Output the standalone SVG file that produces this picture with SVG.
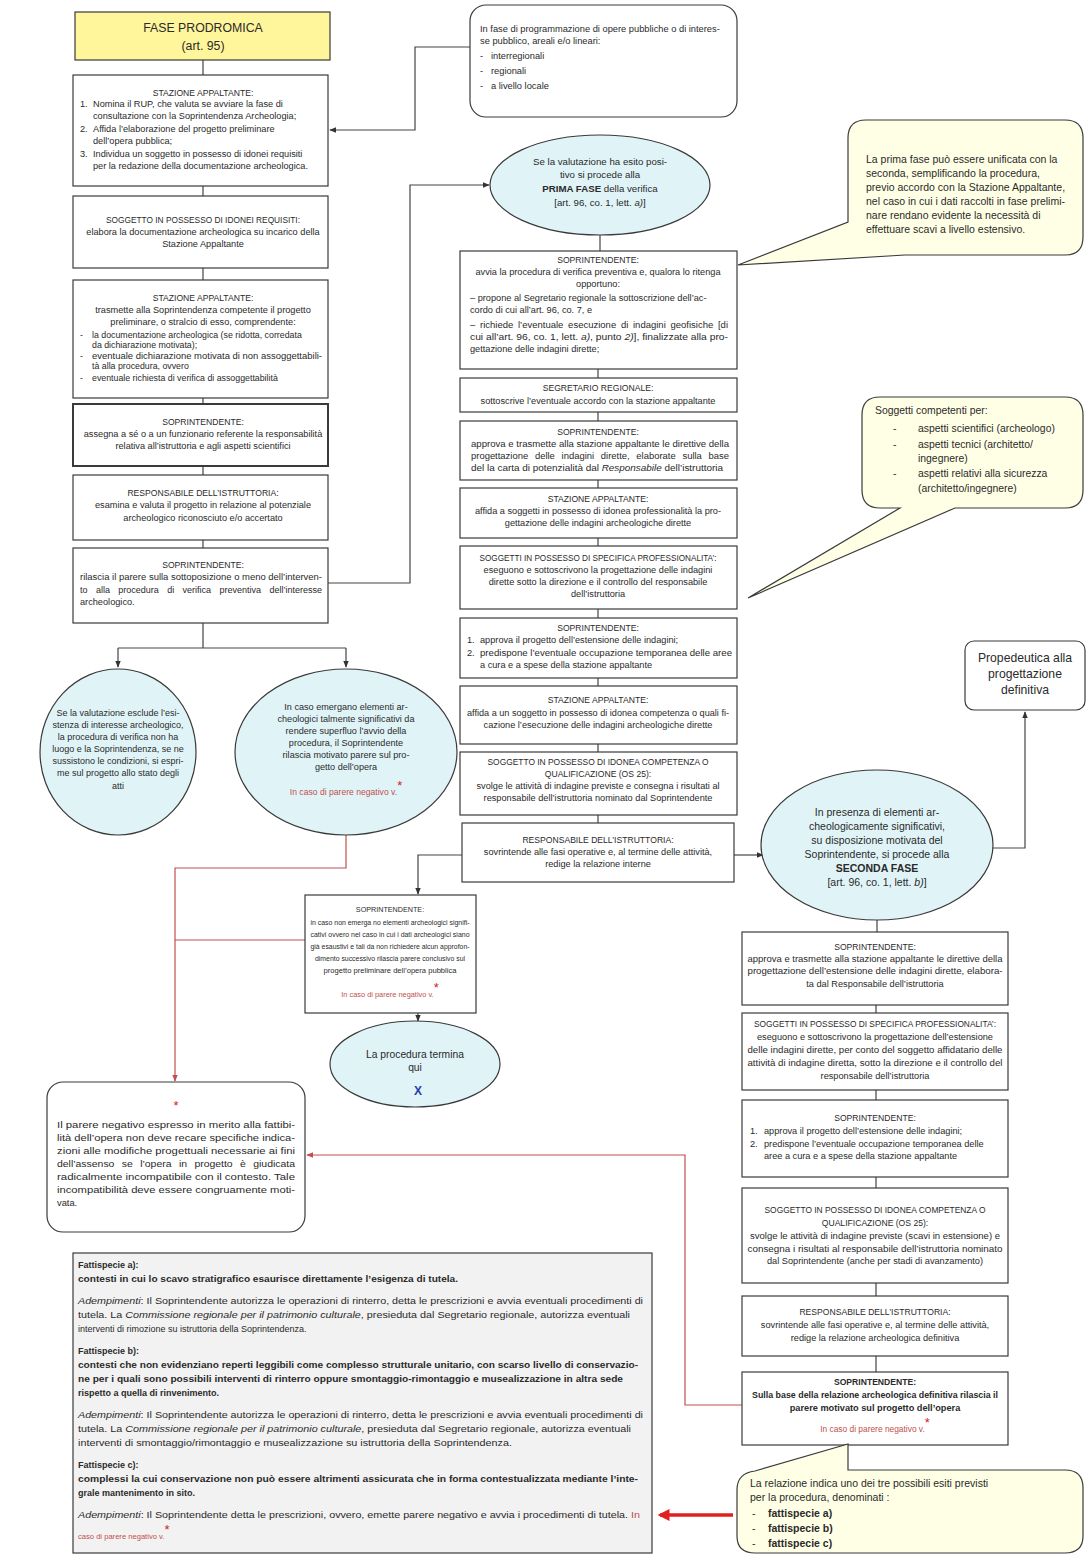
<svg xmlns="http://www.w3.org/2000/svg" width="1088" height="1556" viewBox="0 0 1088 1556">
<style>
text{font-family:"Liberation Sans",Arial,sans-serif;fill:#2a2a2a}
.c{text-anchor:middle}
.b{font-weight:bold}
.i{font-style:italic}
.red{fill:#C0504D}
.ast{fill:#D0202A;font-size:13px}
.box{fill:#fff;stroke:#3a3a3a;stroke-width:1.2}
.ell{fill:#E0F4F8;stroke:#3a3a3a;stroke-width:1.2}
.note{fill:#FFFFE6;stroke:#3a3a3a;stroke-width:1.2}
.rnd{fill:#fff;stroke:#3a3a3a;stroke-width:1.2}
.ln{stroke:#444;stroke-width:1.2;fill:none}
.rl{stroke:#C0504D;stroke-width:1.2;fill:none}
.tt{font-size:8.6px}
.s9{font-size:9.2px}
</style>
<defs>
<marker id="ah" viewBox="0 0 10 10" refX="9" refY="5" markerWidth="6" markerHeight="6" orient="auto"><path d="M0,1 L10,5 L0,9 z" fill="#333"/></marker>
<marker id="ahr" viewBox="0 0 10 10" refX="9" refY="5" markerWidth="6" markerHeight="6" orient="auto"><path d="M0,1 L10,5 L0,9 z" fill="#C0504D"/></marker>
<marker id="ahR" viewBox="0 0 10 10" refX="8" refY="5" markerWidth="3.4" markerHeight="3.4" orient="auto"><path d="M0,0 L10,5 L0,10 z" fill="#E0201F"/></marker>
</defs>

<g id="connectors">
<path class="ln" d="M203,60 V75 M203,186 V196 M203,268 V280 M203,398 V404 M203,466 V475 M203,540 V548"/>
<path class="ln" d="M203,623 V648 M118,648 H346"/>
<path class="ln" d="M118,648 V667" marker-end="url(#ah)"/>
<path class="ln" d="M346,648 V667" marker-end="url(#ah)"/>
<path class="ln" d="M470,47 H415 V130 H330" marker-end="url(#ah)"/>
<path class="ln" d="M328,583 H410 V185 H489" marker-end="url(#ah)"/>
<path class="ln" d="M600,235 V251 M598,369 V378 M598,412 V421 M598,480 V488 M598,538 V546 M598,609 V618 M598,678 V686 M598,744 V752 M598,815 V823"/>
<path class="ln" d="M462,855 H418 V894" marker-end="url(#ah)"/>
<path class="ln" d="M734,855 H763" marker-end="url(#ah)"/>
<path class="ln" d="M418,1013 V1021" marker-end="url(#ah)"/>
<path class="ln" d="M993,848 H1025 V712" marker-end="url(#ah)"/>
<path class="ln" d="M877,920 V932 M876,1005 V1013 M876,1090 V1100 M876,1177 V1188 M876,1283 V1296 M876,1356 V1372"/>
<path class="rl" d="M346,835 V868 H175 V1081" marker-end="url(#ahr)"/>
<path class="rl" d="M305,940 H175"/>
<path class="rl" d="M742,1405 H685 V1155 H307" marker-end="url(#ahr)"/>
<path d="M733,1515 H660" stroke="#E0201F" stroke-width="3.5" fill="none" marker-end="url(#ahR)"/>
</g>

<g id="fase-prodromica">
<rect x="75" y="12" width="255" height="48" fill="#FFF59A" stroke="#3a3a3a" stroke-width="1.2"/>
<text class="c" x="203" y="32" font-size="12.3">FASE PRODROMICA</text>
<text class="c" x="203" y="50" font-size="12.3">(art. 95)</text>
</g>

<g id="stazione-1" class="s9">
<rect class="box" x="73" y="75" width="255" height="111"/>
<text class="c tt" x="203" y="96">STAZIONE APPALTANTE:</text>
<text x="80" y="107">1.</text><text x="93" y="107">Nomina il RUP, che valuta  se avviare la fase di</text>
<text x="93" y="119">consultazione con la Soprintendenza Archeologia;</text>
<text x="80" y="132">2.</text><text x="93" y="132">Affida l’elaborazione  del progetto preliminare</text>
<text x="93" y="144">dell’opera pubblica;</text>
<text x="80" y="157">3.</text><text x="93" y="157">Individua un soggetto in possesso di idonei requisiti</text>
<text x="93" y="169">per la redazione della documentazione  archeologica.</text>
</g>

<g id="soggetto-idonei" class="s9">
<rect class="box" x="73" y="196" width="255" height="72"/>
<text class="c tt" x="203" y="223" textLength="194" lengthAdjust="spacingAndGlyphs">SOGGETTO IN POSSESSO DI IDONEI REQUISITI:</text>
<text class="c" x="203" y="235">elabora la documentazione archeologica su incarico della</text>
<text class="c" x="203" y="247">Stazione Appaltante</text>
</g>

<g id="stazione-2" class="s9">
<rect class="box" x="73" y="280" width="255" height="118"/>
<text class="c tt" x="203" y="301">STAZIONE APPALTANTE:</text>
<text class="c" x="203" y="313">trasmette alla Soprintendenza competente il progetto</text>
<text class="c" x="203" y="325">preliminare, o stralcio di esso, comprendente:</text>
<g font-size="8.8">
<text x="80" y="338">-</text><text x="92" y="338">la documentazione archeologica (se ridotta, corredata</text>
<text x="92" y="348">da dichiarazione motivata);</text>
<text x="80" y="359">-</text><text x="92" y="359" textLength="230" lengthAdjust="spacingAndGlyphs">eventuale dichiarazione motivata di non assoggettabili-</text>
<text x="92" y="369">tà  alla procedura, ovvero</text>
<text x="80" y="381">-</text><text x="92" y="381">eventuale richiesta di verifica di assoggettabilità</text>
</g>
</g>

<g id="soprintendente-assegna" class="s9">
<rect x="73" y="404" width="255" height="62" fill="#fff" stroke="#3a3a3a" stroke-width="2"/>
<text class="c tt" x="203" y="425">SOPRINTENDENTE:</text>
<text class="c" x="203" y="437">assegna a sé o a un funzionario referente la responsabilità</text>
<text class="c" x="203" y="449">relativa all’istruttoria e  agli aspetti scientifici</text>
</g>

<g id="responsabile-1" class="s9">
<rect class="box" x="73" y="475" width="255" height="65"/>
<text class="c tt" x="203" y="496">RESPONSABILE DELL’ISTRUTTORIA:</text>
<text class="c" x="203" y="508">esamina e valuta il progetto in relazione al potenziale</text>
<text class="c" x="203" y="521">archeologico riconosciuto e/o accertato</text>
</g>

<g id="soprintendente-rilascia" class="s9">
<rect class="box" x="73" y="548" width="255" height="75"/>
<text class="c tt" x="203" y="568">SOPRINTENDENTE:</text>
<text x="80" y="580" textLength="242" lengthAdjust="spacingAndGlyphs">rilascia il parere sulla sottoposizione o meno dell’interven-</text>
<text x="80" y="593" textLength="242" lengthAdjust="spacingAndGlyphs" word-spacing="6">to alla procedura di verifica preventiva dell’interesse</text>
<text x="80" y="605">archeologico.</text>
</g>

<g id="ellipse-esclude" font-size="9">
<ellipse class="ell" cx="118" cy="752" rx="78" ry="83"/>
<text class="c" x="118" y="716">Se la valutazione esclude l’esi-</text>
<text class="c" x="118" y="728">stenza di interesse archeologico,</text>
<text class="c" x="118" y="740">la procedura di verifica non ha</text>
<text class="c" x="118" y="752">luogo  e la Soprintendenza, se ne</text>
<text class="c" x="118" y="764">sussistono le condizioni, si espri-</text>
<text class="c" x="118" y="776">me sul progetto allo stato degli</text>
<text class="c" x="118" y="789">atti</text>
</g>

<g id="ellipse-emergano" font-size="9.1">
<ellipse class="ell" cx="346" cy="752" rx="111" ry="83"/>
<text class="c" x="346" y="710">In caso emergano elementi ar-</text>
<text class="c" x="346" y="722">cheologici talmente significativi da</text>
<text class="c" x="346" y="734">rendere superfluo l’avvio della</text>
<text class="c" x="346" y="746">procedura, il Soprintendente</text>
<text class="c" x="346" y="758">rilascia motivato parere sul pro-</text>
<text class="c" x="346" y="770">getto dell’opera</text>
<text class="c red" x="346" y="795" font-size="8.6">In caso di parere negativo  v.<tspan class="ast" dy="-5">*</tspan></text>
</g>

<g id="programmazione" font-size="9.3">
<rect class="rnd" x="470" y="5" width="267" height="112" rx="16"/>
<text x="480" y="32">In fase di programmazione di opere pubbliche o di interes-</text>
<text x="480" y="44">se pubblico, areali e/o lineari:</text>
<text x="480" y="59">-</text><text x="491" y="59">interregionali</text>
<text x="480" y="74">-</text><text x="491" y="74">regionali</text>
<text x="480" y="89">-</text><text x="491" y="89">a livello locale</text>
</g>

<g id="ellipse-prima" font-size="9.7">
<ellipse class="ell" cx="600" cy="185" rx="110" ry="50"/>
<text class="c" x="600" y="165">Se la valutazione ha esito posi-</text>
<text class="c" x="600" y="178">tivo si procede alla</text>
<text class="c" x="600" y="192"><tspan class="b">PRIMA FASE</tspan>  della verifica</text>
<text class="c" x="600" y="206">[art. 96, co. 1, lett. <tspan class="i">a)</tspan>]</text>
</g>

<g id="callout-prima">
<path class="note" d="M866,120 H1065 Q1083,120 1083,138 V237 Q1083,255 1065,255 H905 L738,265 L848,222 V138 Q848,120 866,120 Z"/>
<g font-size="10.5">
<text x="866" y="163">La prima fase può essere unificata con la</text>
<text x="866" y="177">seconda, semplificando la procedura,</text>
<text x="866" y="191">previo accordo con la Stazione Appaltante,</text>
<text x="866" y="205">nel caso in cui i dati raccolti in fase prelimi-</text>
<text x="866" y="219">nare rendano evidente la necessità di</text>
<text x="866" y="233">effettuare scavi a livello estensivo.</text>
</g>
</g>

<g id="m-soprintendente-avvia" class="s9">
<rect class="box" x="460" y="251" width="277" height="118"/>
<text class="c tt" x="598" y="263">SOPRINTENDENTE:</text>
<text class="c" x="598" y="275">avvia la procedura di verifica preventiva e, qualora lo ritenga</text>
<text class="c" x="598" y="287">opportuno:</text>
<text x="470" y="301">– propone al Segretario regionale la sottoscrizione dell’ac-</text>
<text x="470" y="313">cordo di cui all’art. 96, co. 7, e</text>
<text x="470" y="328" textLength="258" lengthAdjust="spacingAndGlyphs" word-spacing="2">– richiede l’eventuale esecuzione di indagini geofisiche [di</text>
<text x="470" y="340" textLength="258" lengthAdjust="spacingAndGlyphs">cui all’art. 96, co. 1, lett. <tspan class="i">a)</tspan>, punto <tspan class="i">2)</tspan>],  finalizzate alla pro-</text>
<text x="470" y="352">gettazione delle indagini dirette;</text>
</g>

<g id="m-segretario" class="s9">
<rect class="box" x="460" y="378" width="277" height="34"/>
<text class="c tt" x="598" y="391">SEGRETARIO REGIONALE:</text>
<text class="c" x="598" y="404">sottoscrive l’eventuale accordo con la stazione appaltante</text>
</g>

<g id="m-soprintendente-approva" class="s9">
<rect class="box" x="460" y="421" width="277" height="59"/>
<text class="c tt" x="598" y="435">SOPRINTENDENTE:</text>
<text x="471" y="447" textLength="258" lengthAdjust="spacingAndGlyphs">approva e trasmette alla stazione appaltante le direttive della</text>
<text x="471" y="459" textLength="258" lengthAdjust="spacingAndGlyphs" word-spacing="4">progettazione delle indagini dirette, elaborate  sulla base</text>
<text x="471" y="471" textLength="252" lengthAdjust="spacingAndGlyphs">del la carta di potenzialità dal <tspan class="i">Responsabile</tspan> dell’istruttoria</text>
</g>

<g id="m-stazione-affida" class="s9">
<rect class="box" x="460" y="488" width="277" height="50"/>
<text class="c tt" x="598" y="502">STAZIONE APPALTANTE:</text>
<text class="c" x="598" y="514">affida a soggetti in possesso di idonea professionalità la pro-</text>
<text class="c" x="598" y="526">gettazione delle indagini archeologiche dirette</text>
</g>

<g id="m-soggetti-specifica" class="s9">
<rect class="box" x="460" y="546" width="277" height="63"/>
<text class="c tt" x="598" y="561" textLength="237" lengthAdjust="spacingAndGlyphs">SOGGETTI IN POSSESSO DI SPECIFICA PROFESSIONALITA’:</text>
<text class="c" x="598" y="573">eseguono e sottoscrivono  la progettazione delle indagini</text>
<text class="c" x="598" y="585">dirette  sotto la direzione e il controllo del responsabile</text>
<text class="c" x="598" y="597">dell’istruttoria</text>
</g>

<g id="callout-soggetti">
<path class="note" d="M880,397 H1065 Q1083,397 1083,415 V490 Q1083,508 1065,508 H955 L748,598 L900,508 H880 Q862,508 862,490 V415 Q862,397 880,397 Z"/>
<g font-size="10.4">
<text x="875" y="414">Soggetti competenti per:</text>
<text x="893" y="432">-</text><text x="918" y="432">aspetti scientifici (archeologo)</text>
<text x="893" y="448">-</text><text x="918" y="448">aspetti tecnici (architetto/</text>
<text x="918" y="462">ingegnere)</text>
<text x="893" y="477">-</text><text x="918" y="477">aspetti relativi alla sicurezza</text>
<text x="918" y="492">(architetto/ingegnere)</text>
</g>
</g>

<g id="m-soprintendente-estensione" class="s9">
<rect class="box" x="460" y="618" width="277" height="60"/>
<text class="c tt" x="598" y="631">SOPRINTENDENTE:</text>
<text x="467" y="643">1.</text><text x="480" y="643">approva il progetto dell’estensione delle indagini;</text>
<text x="467" y="656">2.</text><text x="480" y="656" textLength="252" lengthAdjust="spacingAndGlyphs">predispone l’eventuale occupazione temporanea delle aree</text>
<text x="480" y="668">a cura e a spese della stazione appaltante</text>
</g>

<g id="m-stazione-esecuzione" class="s9">
<rect class="box" x="460" y="686" width="277" height="58"/>
<text class="c tt" x="598" y="703">STAZIONE APPALTANTE:</text>
<text class="c" x="598" y="716" textLength="262" lengthAdjust="spacingAndGlyphs">affida a un soggetto in possesso di idonea competenza o quali fi-</text>
<text class="c" x="598" y="728">cazione l’esecuzione delle indagini archeologiche dirette</text>
</g>

<g id="m-soggetto-idonea" class="s9">
<rect class="box" x="460" y="752" width="277" height="63"/>
<text class="c tt" x="598" y="765" textLength="221" lengthAdjust="spacingAndGlyphs">SOGGETTO IN POSSESSO DI IDONEA  COMPETENZA O</text>
<text class="c tt" x="598" y="777">QUALIFICAZIONE (OS 25):</text>
<text class="c" x="598" y="789">svolge le attività di indagine previste e consegna i risultati al</text>
<text class="c" x="598" y="801">responsabile dell’istruttoria nominato dal Soprintendente</text>
</g>

<g id="m-responsabile" class="s9">
<rect class="box" x="462" y="823" width="272" height="59"/>
<text class="c tt" x="598" y="843">RESPONSABILE DELL’ISTRUTTORIA:</text>
<text class="c" x="598" y="855">sovrintende alle fasi operative e, al termine delle attività,</text>
<text class="c" x="598" y="867">redige la relazione interne</text>
</g>

<g id="m-soprintendente-conclusivo" font-size="7.6">
<rect class="box" x="305" y="895" width="171" height="118"/>
<text class="c" x="390" y="912" font-size="7.2">SOPRINTENDENTE:</text>
<text class="c" x="390" y="925" textLength="159" lengthAdjust="spacingAndGlyphs">in caso non emerga no elementi archeologici signifi-</text>
<text class="c" x="390" y="937" textLength="159" lengthAdjust="spacingAndGlyphs">cativi ovvero nel caso in cui i dati archeologici siano</text>
<text class="c" x="390" y="949" textLength="159" lengthAdjust="spacingAndGlyphs">già esaustivi e tali da non richiedere alcun approfon-</text>
<text class="c" x="390" y="961" textLength="150" lengthAdjust="spacingAndGlyphs">dimento successivo rilascia parere conclusivo sul</text>
<text class="c" x="390" y="973">progetto preliminare dell’opera pubblica</text>
<text class="c red" x="390" y="997" font-size="7.4">In caso di parere negativo  v.<tspan class="ast" dy="-5">*</tspan></text>
</g>

<g id="ellipse-termina" font-size="10.3">
<ellipse class="ell" cx="415" cy="1064" rx="85" ry="43"/>
<text class="c" x="415" y="1058">La procedura termina</text>
<text class="c" x="415" y="1071">qui</text>
<text class="c b" x="418" y="1095" font-size="12" style="fill:#2B3AA8">X</text>
</g>

<g id="nota-parere-negativo" font-size="9.3">
<rect class="rnd" x="47" y="1082" width="258" height="150" rx="16"/>
<text class="c ast" x="176" y="1110">*</text>
<text x="57" y="1128" textLength="238" lengthAdjust="spacingAndGlyphs">Il parere negativo espresso in merito alla fattibi-</text>
<text x="57" y="1141" textLength="238" lengthAdjust="spacingAndGlyphs">lità dell’opera non deve recare specifiche indica-</text>
<text x="57" y="1154" textLength="238" lengthAdjust="spacingAndGlyphs">zioni alle modifiche progettuali necessarie ai fini</text>
<text x="57" y="1167" textLength="238" lengthAdjust="spacingAndGlyphs" word-spacing="4">dell’assenso se l’opera in progetto è giudicata</text>
<text x="57" y="1180" textLength="238" lengthAdjust="spacingAndGlyphs">radicalmente incompatibile con il contesto. Tale</text>
<text x="57" y="1193" textLength="238" lengthAdjust="spacingAndGlyphs">incompatibilità deve essere congruamente moti-</text>
<text x="57" y="1206">vata.</text>
</g>

<g id="propedeutica" font-size="12.2">
<rect class="rnd" x="965" y="641" width="120" height="69" rx="9"/>
<text class="c" x="1025" y="662">Propedeutica alla</text>
<text class="c" x="1025" y="678">progettazione</text>
<text class="c" x="1025" y="694">definitiva</text>
</g>

<g id="ellipse-seconda" font-size="10.5">
<ellipse class="ell" cx="877" cy="845" rx="116" ry="75"/>
<text class="c" x="877" y="816">In  presenza di elementi ar-</text>
<text class="c" x="877" y="830">cheologicamente significativi,</text>
<text class="c" x="877" y="844">su disposizione motivata del</text>
<text class="c" x="877" y="858">Soprintendente, si procede alla</text>
<text class="c b" x="877" y="872">SECONDA FASE</text>
<text class="c" x="877" y="886">[art. 96, co. 1, lett. <tspan class="i">b)</tspan>]</text>
</g>

<g id="r-soprintendente-direttive" class="s9">
<rect class="box" x="742" y="932" width="266" height="73"/>
<text class="c tt" x="875" y="950">SOPRINTENDENTE:</text>
<text class="c" x="875" y="962" textLength="255" lengthAdjust="spacingAndGlyphs">approva e trasmette alla stazione appaltante le direttive della</text>
<text class="c" x="875" y="974" textLength="255" lengthAdjust="spacingAndGlyphs">progettazione dell’estensione  delle indagini dirette, elabora-</text>
<text class="c" x="875" y="987">ta dal Responsabile dell’istruttoria</text>
</g>

<g id="r-soggetti-specifica" class="s9">
<rect class="box" x="742" y="1013" width="266" height="77"/>
<text class="c tt" x="875" y="1027" textLength="242" lengthAdjust="spacingAndGlyphs">SOGGETTI IN POSSESSO DI SPECIFICA PROFESSIONALITA’:</text>
<text class="c" x="875" y="1040">eseguono e sottoscrivono la progettazione dell’estensione</text>
<text class="c" x="875" y="1053" textLength="255" lengthAdjust="spacingAndGlyphs">delle indagini dirette, per conto del soggetto affidatario delle</text>
<text class="c" x="875" y="1066" textLength="255" lengthAdjust="spacingAndGlyphs">attività di indagine diretta, sotto la direzione e il controllo del</text>
<text class="c" x="875" y="1079">responsabile dell’istruttoria</text>
</g>

<g id="r-soprintendente-estensione" class="s9">
<rect class="box" x="742" y="1100" width="266" height="77"/>
<text class="c tt" x="875" y="1121">SOPRINTENDENTE:</text>
<text x="750" y="1134">1.</text><text x="764" y="1134">approva il progetto dell’estensione delle indagini;</text>
<text x="750" y="1147">2.</text><text x="764" y="1147">predispone l’eventuale occupazione temporanea delle</text>
<text x="764" y="1159">aree a cura e a spese della stazione appaltante</text>
</g>

<g id="r-soggetto-idonea" class="s9">
<rect class="box" x="742" y="1188" width="266" height="95"/>
<text class="c tt" x="875" y="1213" textLength="221" lengthAdjust="spacingAndGlyphs">SOGGETTO IN POSSESSO DI IDONEA  COMPETENZA O</text>
<text class="c tt" x="875" y="1226">QUALIFICAZIONE (OS 25):</text>
<text class="c" x="875" y="1239" textLength="250" lengthAdjust="spacingAndGlyphs">svolge le attività di indagine previste (scavi in estensione) e</text>
<text class="c" x="875" y="1252" textLength="255" lengthAdjust="spacingAndGlyphs">consegna i risultati al responsabile dell’istruttoria nominato</text>
<text class="c" x="875" y="1264">dal Soprintendente (anche per stadi di avanzamento)</text>
</g>

<g id="r-responsabile" class="s9">
<rect class="box" x="742" y="1296" width="266" height="60"/>
<text class="c tt" x="875" y="1315">RESPONSABILE DELL’ISTRUTTORIA:</text>
<text class="c" x="875" y="1328">sovrintende alle fasi operative e, al termine delle attività,</text>
<text class="c" x="875" y="1341">redige la relazione archeologica definitiva</text>
</g>

<g id="r-soprintendente-parere" class="s9">
<rect class="box" x="742" y="1372" width="266" height="73"/>
<text class="c b tt" x="875" y="1385">SOPRINTENDENTE:</text>
<text class="c b" x="875" y="1398" textLength="246" lengthAdjust="spacingAndGlyphs">Sulla base della relazione archeologica definitiva rilascia il</text>
<text class="c b" x="875" y="1411">parere motivato sul progetto  dell’opera</text>
<text class="c red" x="875" y="1432" font-size="8.4">In caso di parere negativo  v.<tspan class="ast" dy="-5">*</tspan></text>
</g>

<g id="callout-relazione">
<path class="note" d="M737,1490 Q737,1473 755,1471 L848,1444 V1470 H1065 Q1083,1470 1083,1488 V1536 Q1083,1553 1065,1553 H755 Q737,1553 737,1536 Z"/>
<g font-size="10.5">
<text x="750" y="1487">La relazione indica uno dei tre possibili esiti previsti</text>
<text x="750" y="1501">per la procedura,  denominati :</text>
<text x="752" y="1517">-</text><text class="b" x="768" y="1517">fattispecie a)</text>
<text x="752" y="1532">-</text><text class="b" x="768" y="1532">fattispecie b)</text>
<text x="752" y="1547">-</text><text class="b" x="768" y="1547">fattispecie c)</text>
</g>
</g>

<g id="fattispecie">
<rect x="73" y="1253" width="579" height="300" fill="#F2F2F2" stroke="#3a3a3a" stroke-width="1.2"/>
<g font-size="9">
<text class="b" x="78" y="1268">Fattispecie a):</text>
<text class="b" x="78" y="1282" textLength="380" lengthAdjust="spacingAndGlyphs">contesti in cui lo scavo stratigrafico esaurisce direttamente l’esigenza di tutela.</text>
<text x="78" y="1304" textLength="565" lengthAdjust="spacingAndGlyphs"><tspan class="i">Adempimenti</tspan>: Il Soprintendente autorizza le operazioni di rinterro, detta le prescrizioni e avvia eventuali procedimenti di</text>
<text x="78" y="1318" textLength="552" lengthAdjust="spacingAndGlyphs">tutela. La <tspan class="i">Commissione regionale per il patrimonio culturale</tspan>, presieduta dal Segretario regionale, autorizza eventuali</text>
<text x="78" y="1332">interventi di rimozione su istruttoria della Soprintendenza.</text>
<text class="b" x="78" y="1354">Fattispecie b):</text>
<text class="b" x="78" y="1368" textLength="560" lengthAdjust="spacingAndGlyphs">contesti che non evidenziano reperti leggibili come complesso strutturale unitario, con scarso livello di conservazio-</text>
<text class="b" x="78" y="1382" textLength="545" lengthAdjust="spacingAndGlyphs">ne per i quali sono possibili interventi di rinterro oppure smontaggio-rimontaggio e musealizzazione in altra sede</text>
<text class="b" x="78" y="1396">rispetto a quella di rinvenimento.</text>
<text x="78" y="1418" textLength="565" lengthAdjust="spacingAndGlyphs"><tspan class="i">Adempimenti</tspan>: Il Soprintendente autorizza le operazioni di rinterro, detta le prescrizioni e avvia eventuali procedimenti di</text>
<text x="78" y="1432" textLength="553" lengthAdjust="spacingAndGlyphs">tutela. La <tspan class="i">Commissione regionale per il patrimonio culturale</tspan>,  presieduta dal Segretario regionale, autorizza eventuali</text>
<text x="78" y="1446" textLength="434" lengthAdjust="spacingAndGlyphs">interventi di smontaggio/rimontaggio e musealizzazione su istruttoria della Soprintendenza.</text>
<text class="b" x="78" y="1468">Fattispecie c):</text>
<text class="b" x="78" y="1482" textLength="560" lengthAdjust="spacingAndGlyphs">complessi la cui conservazione non può essere altrimenti assicurata che in forma contestualizzata mediante l’inte-</text>
<text class="b" x="78" y="1496">grale mantenimento in sito.</text>
<text x="78" y="1518" textLength="562" lengthAdjust="spacingAndGlyphs"><tspan class="i">Adempimenti</tspan>: Il Soprintendente detta le prescrizioni, ovvero, emette parere negativo  e avvia i procedimenti di tutela.  <tspan class="red">In</tspan></text>
<text class="red" x="78" y="1539" font-size="7.6">caso di parere negativo  v.<tspan class="ast" dy="-5">*</tspan></text>
</g>
</g>
</svg>
